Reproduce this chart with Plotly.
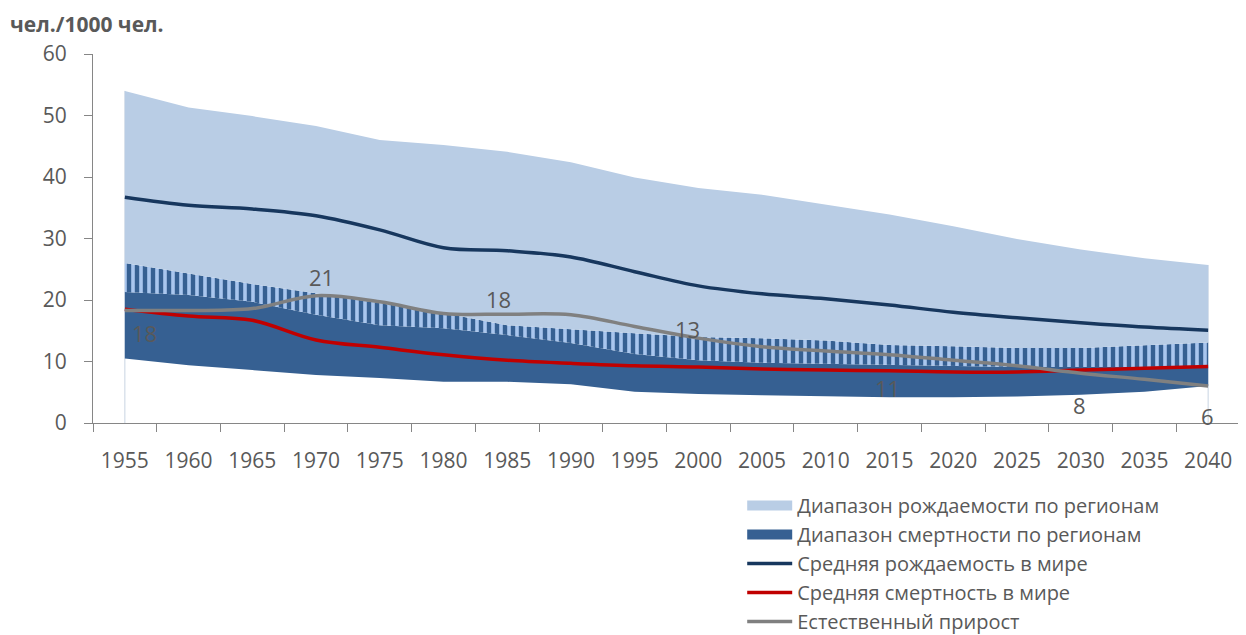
import plotly.graph_objects as go

years = [str(y) for y in range(1955, 2041, 5)]

birth_max = [54.0, 51.3, 49.9, 48.3, 46.0, 45.2, 44.1, 42.4, 39.9, 38.2,
             37.1, 35.5, 33.9, 32.0, 29.9, 28.2, 26.8, 25.7]
birth_min = [21.3, 20.8, 19.7, 17.6, 15.9, 15.4, 14.3, 13.0, 11.2, 10.2,
             9.8, 9.6, 9.4, 9.3, 9.1, 9.1, 9.1, 9.3]
death_max = [26.0, 24.3, 22.6, 21.1, 19.5, 17.9, 15.9, 15.2, 14.6, 14.0,
             13.8, 13.4, 12.7, 12.5, 12.2, 12.2, 12.6, 13.1]
death_min = [10.5, 9.4, 8.6, 7.8, 7.3, 6.7, 6.7, 6.3, 5.1, 4.7,
             4.5, 4.3, 4.2, 4.2, 4.3, 4.6, 5.1, 6.0]
birth_avg = [36.7, 35.4, 34.8, 33.7, 31.4, 28.5, 28.0, 27.0, 24.6, 22.3,
             21.0, 20.2, 19.2, 18.0, 17.1, 16.3, 15.6, 15.1]
death_avg = [18.5, 17.4, 16.7, 13.5, 12.3, 11.1, 10.2, 9.7, 9.3, 9.1,
             8.8, 8.6, 8.5, 8.3, 8.3, 8.6, 8.9, 9.2]
natural = [18.3, 18.3, 18.6, 20.7, 19.7, 17.8, 17.7, 17.6, 15.7, 13.8,
           12.4, 11.7, 11.1, 10.2, 9.3, 8.1, 7.1, 6.0]

# labelled points of the natural increase line
label_years = ["1955", "1970", "1985", "2000", "2015", "2030", "2040"]
label_text = ["18", "21", "18", "13", "11", "8", "6"]
label_shift = [(20, -23), (5, 19), (-9, 15), (-11, 9), (-2, -33),
               (-1, -32), (-1, -30)]

light_blue = "#B9CDE5"
dark_blue = "#366092"
navy = "#17375E"
red = "#C00000"
grey = "#808080"
text_grey = "#595959"
font = "Open Sans"

fig = go.Figure()

# thin edge lines at both ends of the bands
for i in (0, len(years) - 1):
    fig.add_scatter(x=[years[i], years[i]], y=[0, birth_max[i]], mode="lines",
                    line=dict(color="#C8D4E2", width=1),
                    showlegend=False, hoverinfo="skip")

# bands
fig.add_scatter(x=years, y=death_min, mode="lines", line=dict(width=0),
                showlegend=False, hoverinfo="skip")
fig.add_scatter(x=years, y=birth_min, mode="lines", line=dict(width=0),
                fill="tonexty", fillcolor=dark_blue,
                showlegend=False, hoverinfo="skip")
fig.add_scatter(x=years, y=death_max, mode="lines", line=dict(width=0),
                fill="tonexty",
                fillpattern=dict(shape="|", fgcolor=dark_blue, fgopacity=1,
                                 bgcolor="#A9C6EE", size=8, solidity=0.55),
                showlegend=False, hoverinfo="skip")
fig.add_scatter(x=years, y=birth_max, mode="lines", line=dict(width=0),
                fill="tonexty", fillcolor=light_blue,
                showlegend=False, hoverinfo="skip")

# lines
fig.add_scatter(x=years, y=birth_avg, mode="lines",
                line=dict(color=navy, width=3.5, shape="spline"),
                showlegend=False)
fig.add_scatter(x=years, y=death_avg, mode="lines",
                line=dict(color=red, width=3.5, shape="spline"),
                showlegend=False)
fig.add_scatter(x=years, y=natural, mode="lines",
                line=dict(color=grey, width=3.5, shape="spline"),
                showlegend=False)

# legend entries
legend_items = [
    ("Диапазон рождаемости по регионам", light_blue, 15),
    ("Диапазон смертности по регионам", dark_blue, 15),
    ("Средняя рождаемость в мире", navy, 3.5),
    ("Средняя смертность в мире", red, 3.5),
    ("Естественный прирост", grey, 3.5),
]
for name, color, w in legend_items:
    fig.add_scatter(x=[None], y=[None], mode="lines", name=name,
                    line=dict(color=color, width=w))

for yr, txt, (dx, dy) in zip(label_years, label_text, label_shift):
    i = years.index(yr)
    fig.add_annotation(x=i, y=natural[i], text=txt,
                       showarrow=False, xshift=dx, yshift=dy,
                       font=dict(size=22, color=text_grey, family=font))

fig.add_annotation(xref="paper", yref="paper", x=-0.074, y=1.081,
                   xanchor="left", yanchor="middle",
                   text="<b>чел./1000 чел.</b>", showarrow=False,
                   font=dict(size=21, color=text_grey, family=font))

# the page body adds an 8px margin, so the figure is 8px smaller
fig.update_layout(
    width=1238, height=627,
    margin=dict(l=85, r=6, t=46, b=212),
    paper_bgcolor="white", plot_bgcolor="white",
    font=dict(family=font, color=text_grey, size=21),
    legend=dict(x=0.566, xref="paper", y=0.2376, yref="container",
                xanchor="left", yanchor="top", traceorder="normal",
                font=dict(size=20, color=text_grey, family=font),
                itemwidth=45, tracegroupgap=0, bgcolor="rgba(0,0,0,0)"),
)
fig.update_xaxes(type="category", categoryorder="array", categoryarray=years,
                 range=[-0.5, 17.5], showline=True,
                 linecolor="#868686", linewidth=1, ticks="outside",
                 tickson="boundaries", ticklen=8, tickcolor="#868686",
                 showgrid=False, ticklabelstandoff=19, automargin=False,
                 tickfont=dict(size=21, color=text_grey))
fig.update_yaxes(range=[0, 60], dtick=10, showline=True,
                 linecolor="#868686", linewidth=1, ticks="outside",
                 ticklen=8, tickcolor="#868686", showgrid=False,
                 zeroline=False, ticklabelstandoff=13, automargin=False,
                 tickfont=dict(size=21, color=text_grey))

fig.write_html("out.html")
